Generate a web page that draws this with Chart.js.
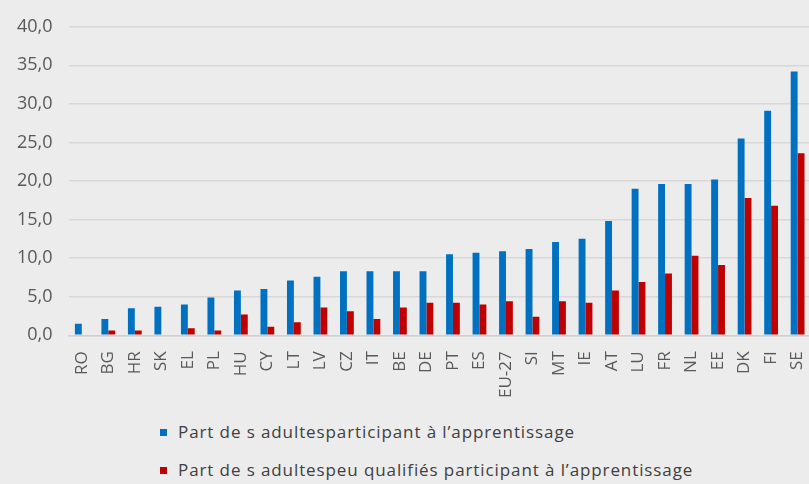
<!DOCTYPE html>
<html>
<head>
<meta charset="utf-8">
<script src="https://cdn.jsdelivr.net/npm/chart.js@4/dist/chart.umd.min.js"></script>
<style>
  html, body { margin: 0; padding: 0; background: #ececec; overflow: hidden; }
  #wrap { position: relative; width: 826px; height: 406px; }
  .legend { position: absolute; left: 160px; font-family: "Open Sans", sans-serif; font-size: 17px; letter-spacing: 0.9px; color: #404040; white-space: nowrap; }
  .legend span.box { display: inline-block; width: 7px; height: 7px; margin-right: 11px; vertical-align: 2px; }
</style>
</head>
<body>
<div id="wrap"><canvas id="myChart" width="826" height="406"></canvas></div>
<div class="legend" style="top:420px"><span class="box" style="background:#0070c0"></span>Part de s adultesparticipant à l’apprentissage</div>
<div class="legend" style="top:458px"><span class="box" style="background:#c00000"></span>Part de s adultespeu qualifiés participant à l’apprentissage</div>
<script>
// 🏷️ Pays
const countries = ["RO", "BG", "HR", "SK", "EL", "PL", "HU", "CY", "LT", "LV", "CZ", "IT", "BE", "DE",
  "PT", "ES", "EU-27", "SI", "MT", "IE", "AT", "LU", "FR", "NL", "EE", "DK", "FI", "SE"];

// 🔵 Adultes participant
const allAdults = [1.5, 2.1, 3.5, 3.7, 4.0, 4.9, 5.8, 6.0, 7.1, 7.6, 8.3, 8.3, 8.3, 8.3,
  10.5, 10.7, 10.9, 11.2, 12.1, 12.5, 14.8, 19.0, 19.6, 19.6, 20.2, 25.5, 29.1, 34.2];

// 🔴 Adultes peu qualifiés
const lowSkilled = [0, 0.6, 0.6, 0, 0.9, 0.6, 2.7, 1.1, 1.7, 3.6, 3.1, 2.1, 3.6, 4.2,
  4.2, 4.0, 4.4, 2.4, 4.4, 4.2, 5.8, 6.9, 8.0, 10.3, 9.1, 17.8, 16.8, 23.6];

const yTicks = [0, 5, 10, 15, 20, 25, 30, 35, 40];

const ctx = document.getElementById("myChart").getContext("2d");

new Chart(ctx, {
  type: "bar",
  data: {
    labels: countries,
    datasets: [
      {
        label: "Part de s adultesparticipant à l’apprentissage",
        data: allAdults,
        backgroundColor: "#0070c0",
        barPercentage: 1,
        categoryPercentage: 0.52
      },
      {
        label: "Part de s adultespeu qualifiés participant à l’apprentissage",
        data: lowSkilled,
        backgroundColor: "#c00000",
        barPercentage: 1,
        categoryPercentage: 0.52
      }
    ]
  },
  options: {
    responsive: false,
    animation: false,
    layout: { padding: { top: 6, left: 1, right: 0, bottom: 0 } },
    plugins: {
      legend: { display: false },
      tooltip: { enabled: false }
    },
    scales: {
      x: {
        grid: { display: false },
        border: { color: "#d0d0d0", width: 1.5 },
        ticks: {
          color: "#595959",
          font: { family: "Open Sans", size: 17 },
          minRotation: 90,
          maxRotation: 90,
          autoSkip: false,
          padding: 8
        }
      },
      y: {
        min: 0,
        max: 40,
        afterBuildTicks: axis => { axis.ticks = yTicks.map(v => ({ value: v })); },
        grid: { color: "#d8d8d8", lineWidth: 1.5, drawTicks: false },
        border: { display: false },
        ticks: {
          color: "#595959",
          font: { family: "Open Sans", size: 18 },
          padding: 16,
          callback: v => v.toFixed(1).replace(".", ",")
        }
      }
    }
  }
});
</script>
</body>
</html>
